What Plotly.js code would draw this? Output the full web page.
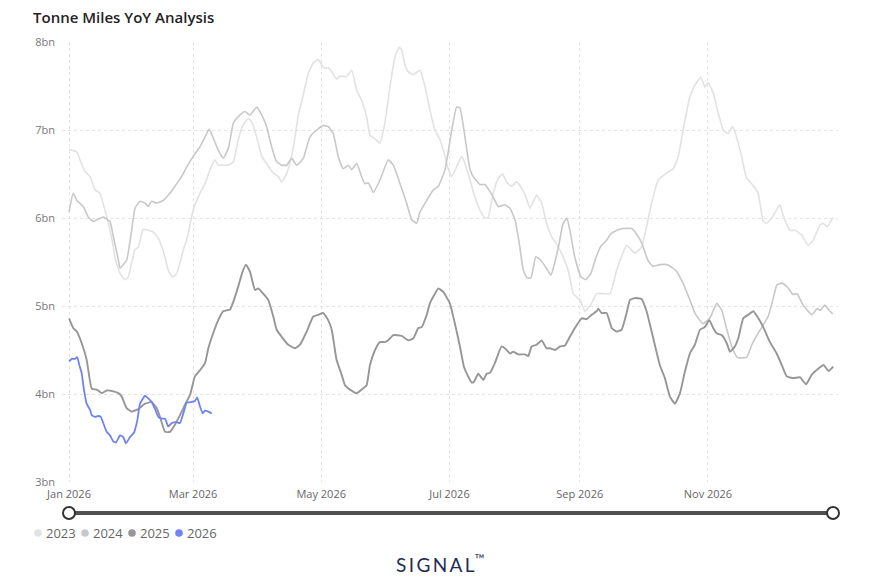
<!DOCTYPE html>
<html>
<head>
<meta charset="utf-8">
<script src="https://cdn.plot.ly/plotly-3.0.1.min.js"></script>
<style>html,body{margin:0;padding:0;background:#fff;}#chart{width:869px;height:577px;}</style>
</head>
<body>
<div id="chart"></div>
<script>
// ---- data (day of year offset from 1 Jan, value in billions of tonne miles) ----
const seriesNames = ['2023', '2024', '2025', '2026'];
const seriesColors = ['#e2e2e2', '#c8c8c8', '#969696', '#6f82f5'];

const days2023 = [
  0,3.7,5.2,7.6,10,12.4,14.7,17.1,19.5,21.1,
  21.9,24.3,26.6,28.2,29.8,31.4,33,35.3,37.7,40.1,
  42.5,44.9,47.2,48,49.6,51.2,52.8,54.4,56,59.1,
  62.3,64.7,67.1,69.4,71,73.4,75.8,78.2,80.5,82.9,
  85.3,86.9,89.3,91.7,94,97.2,99.6,101.2,103.6,105.9,
  107.5,109.1,111.5,113.8,116.2,118.6,120.2,121.8,123.3,125,
  127.3,128.9,132.1,134.5,136.9,139.2,141.6,143.2,145.6,147.9,
  150.3,152.7,155.1,157,158.3,159.8,161.4,163.8,167,169.4,
  171.7,174.1,176.5,178.9,180.4,182,184.4,186.8,188.4,190.8,
  193.1,195.5,197.9,199.5,201.8,204.2,206.3,208.2,210.6,213,
  215.4,217.7,219.3,222.5,224.9,227.2,229.6,232.8,235.1,237.5,
  239.9,243.1,245.5,248.6,251,254.2,257.4,260.5,262.9,265.3,
  269.2,272.4,274.8,277.2,280.3,284.3,287.5,289.9,292.2,295.4,
  297.8,300.6,302.5,304.1,306.5,308.9,311.3,313.6,315.7,317.6,
  320,322.4,324.8,327.9,330.3,331.9,335.1,338.2,339.8,343,
  345.4,348.5,351.7,354.1,357.3,358.8,360.7,363.6];
const vals2023 = [
  6.78,6.75,6.66,6.53,6.47,6.32,6.28,6.09,5.86,5.67,
  5.54,5.37,5.30,5.33,5.49,5.64,5.67,5.87,5.86,5.84,
  5.77,5.62,5.41,5.37,5.33,5.37,5.49,5.64,5.75,6.09,
  6.28,6.39,6.55,6.66,6.60,6.60,6.60,6.64,6.89,7.06,
  7.13,7.09,6.92,6.70,6.62,6.51,6.47,6.41,6.51,6.70,
  6.92,7.17,7.40,7.64,7.76,7.80,7.74,7.70,7.71,7.66,
  7.58,7.61,7.61,7.68,7.45,7.34,7.15,6.94,6.90,6.85,
  7.08,7.49,7.83,7.94,7.91,7.74,7.66,7.63,7.68,7.49,
  7.23,7.00,6.89,6.70,6.56,6.47,6.58,6.70,6.62,6.43,
  6.24,6.09,6.00,6.01,6.28,6.45,6.50,6.41,6.36,6.41,
  6.34,6.22,6.11,6.26,6.17,5.94,5.79,5.67,5.56,5.41,
  5.14,5.07,4.94,5.03,5.14,5.14,5.14,5.40,5.56,5.69,
  5.60,5.67,5.90,6.17,6.43,6.51,6.56,6.70,7.00,7.38,
  7.51,7.60,7.49,7.54,7.42,7.19,7.00,6.96,7.04,6.92,
  6.70,6.45,6.39,6.28,5.96,5.94,6.03,6.15,6.03,5.86,
  5.86,5.81,5.69,5.75,5.92,5.94,5.90,6.01];

const days2024 = [
  0,2,3.7,6.8,9.2,11.6,13.2,16.3,19.5,21.1,
  23.5,24.3,27.4,29.8,31.4,33.8,36.2,37.6,39.3,41.7,
  44.9,48,50.4,53.6,56,59.1,62.3,64.7,66.7,68.6,
  71,73.4,75.8,78.2,80.5,83.7,86.1,89.3,91.7,94,
  96.4,98.8,101.2,103.6,105.9,108.3,111.5,114.6,117.8,121,
  123.3,125.7,128.1,130.5,132.9,134.5,136.9,139.2,140.8,142.4,
  144.8,147.9,151.9,154.3,157.5,160.6,163,165.4,167,170.2,
  173.3,175.7,178.9,182.1,184.4,186,188.4,190.8,192.3,195.5,
  197.9,200.3,201.8,204.2,207.4,209.8,212.2,214.5,216.1,217.9,
  219.8,222.1,224.5,227.4,229.3,231.2,233.1,235,236.9,238.4,
  240.7,243.6,245.9,248.3,250.7,253.1,255.9,257.4,260.7,263.5,
  267.8,270.2,272.6,275.4,277.8,281.1,284.5,287.3,289.2,292.1,
  295.4,297.8,301.6,304.9,308.2,310.6,313,315.4,317.8,320.2,
  322.5,324.9,327.3,330.2,332.6,334.9,336.8,339.2,341.6,344.5,
  346.4,349.3,353.5,355.9,357.3,359.6,362,363.4];
const vals2024 = [
  6.07,6.28,6.20,6.13,6.01,5.96,5.98,6.01,5.96,5.79,
  5.52,5.43,5.52,5.86,6.11,6.19,6.17,6.13,6.19,6.17,
  6.20,6.28,6.36,6.47,6.58,6.70,6.81,6.92,7.01,6.91,
  6.77,6.68,6.79,7.08,7.15,7.21,7.17,7.26,7.17,7.04,
  6.81,6.64,6.60,6.60,6.68,6.60,6.68,6.92,7.00,7.05,
  7.04,6.96,6.70,6.56,6.60,6.55,6.62,6.47,6.39,6.40,
  6.29,6.43,6.66,6.60,6.39,6.17,5.98,5.94,6.07,6.20,
  6.32,6.36,6.55,7.00,7.26,7.25,6.92,6.55,6.47,6.38,
  6.38,6.30,6.24,6.13,6.15,6.11,5.98,5.67,5.41,5.32,
  5.32,5.56,5.52,5.42,5.35,5.50,5.70,5.93,6.00,5.85,
  5.55,5.33,5.30,5.37,5.55,5.68,5.75,5.81,5.86,5.88,
  5.88,5.81,5.71,5.52,5.45,5.47,5.47,5.43,5.39,5.26,
  5.07,4.92,4.80,4.86,5.03,4.95,4.73,4.54,4.42,4.41,
  4.42,4.56,4.67,4.78,4.88,5.07,5.24,5.26,5.22,5.13,
  5.14,5.01,4.90,4.97,4.95,5.01,4.94,4.91];

const days2025 = [
  0,2,3.7,6,8.4,10.8,13.2,15.6,17.9,21.1,
  23.5,25.1,27.4,29.8,33,36.2,39.3,41.7,43.3,45.7,
  48,50.4,52.8,55.2,57.6,59.9,62.3,64.7,66.3,68.6,
  71,73.4,76.6,78.2,80.5,82.6,84.2,86.1,88.5,90,
  92.4,94.8,97.2,98.8,101.2,104.3,107.5,109.9,113.1,116.2,
  118.6,121,123.3,125,127.3,129.7,131.3,133.7,136.9,139.2,
  141.6,143.2,145.6,147.9,150.3,151.9,154.3,158.3,161.4,163.8,
  166.2,167.8,170.2,171.7,174.1,175.7,178.1,181.2,183.6,186,
  187.9,189.9,191.6,192.7,194.7,197.1,198.7,200.3,202.6,205.8,
  207.4,209.8,211.4,213.7,216.9,218.5,220.1,222.5,224.9,227.2,
  228.8,231.2,233.6,235.9,238.3,240.7,243.9,246.3,248.6,251,
  251.8,253.4,255.8,258.2,260.5,262.9,265.3,266.9,269.2,272.4,
  274.8,277.2,281.1,283.5,285.9,288.3,290.7,293,295.4,297.8,
  300.2,302.5,304.6,306.5,308.1,310.5,312.9,314.5,316.8,318.4,
  320.8,323.2,325.6,328,330.3,333.5,336.7,339.1,341.5,344.6,
  347.8,350.7,353.4,356.6,359,361.4,363.6];
const vals2025 = [
  4.86,4.75,4.71,4.58,4.39,4.06,4.05,4.01,4.04,4.03,
  4.01,3.97,3.84,3.80,3.83,3.89,3.91,3.84,3.74,3.57,
  3.57,3.65,3.76,3.88,3.99,4.20,4.27,4.35,4.52,4.69,
  4.84,4.94,4.96,5.05,5.22,5.39,5.47,5.39,5.18,5.20,
  5.14,5.07,4.88,4.73,4.65,4.56,4.52,4.56,4.71,4.88,
  4.90,4.92,4.84,4.73,4.39,4.22,4.10,4.05,4.01,4.05,
  4.10,4.33,4.50,4.59,4.59,4.61,4.67,4.66,4.61,4.63,
  4.75,4.76,4.90,5.03,5.14,5.20,5.16,5.03,4.80,4.54,
  4.31,4.20,4.13,4.14,4.23,4.16,4.23,4.24,4.35,4.54,
  4.52,4.46,4.48,4.45,4.45,4.43,4.54,4.56,4.61,4.52,
  4.52,4.50,4.54,4.55,4.65,4.75,4.86,4.85,4.90,4.94,
  4.97,4.92,4.92,4.75,4.71,4.73,4.92,5.07,5.09,5.08,
  4.94,4.71,4.33,4.18,3.97,3.89,4.01,4.25,4.46,4.56,
  4.73,4.76,4.84,4.75,4.69,4.67,4.58,4.48,4.54,4.63,
  4.86,4.90,4.94,4.86,4.76,4.59,4.46,4.33,4.20,4.18,
  4.19,4.11,4.22,4.29,4.33,4.26,4.31];

const days2026 = [
  0,1.3,2.9,3.9,4.9,6,7.1,8.4,10,10.8,
  12.4,13.9,15.1,16.3,17.9,19.5,21.1,22.4,24.3,25.8,
  27.1,29,30.9,32.5,33.8,36.2,37.7,39.3,40.9,42.5,
  44.1,45.7,47.2,48.9,51.2,52.8,54.4,56,58.4,59.9,
  61,62.3,63.6,64.7,66.3,67.9];
const vals2026 = [
  4.37,4.40,4.40,4.42,4.33,4.24,4.05,3.89,3.82,3.76,
  3.74,3.75,3.74,3.67,3.57,3.53,3.46,3.45,3.53,3.51,
  3.44,3.51,3.56,3.70,3.89,3.98,3.95,3.91,3.83,3.74,
  3.72,3.72,3.63,3.67,3.68,3.67,3.78,3.90,3.91,3.92,
  3.96,3.86,3.78,3.81,3.80,3.78];

const xTickVals = ['2026-01-01', '2026-03-01', '2026-05-01', '2026-07-01', '2026-09-01', '2026-11-01'];
const xTickText = ['Jan 2026', 'Mar 2026', 'May 2026', 'Jul 2026', 'Sep 2026', 'Nov 2026'];
const yTickVals = [3, 4, 5, 6, 7, 8];
const yTickText = ['3bn', '4bn', '5bn', '6bn', '7bn', '8bn'];

// ---- build ----
const base = Date.UTC(2026, 0, 1);
function toDate(d) {
  return new Date(base + d * 864e5).toISOString().slice(0, 16).replace('T', ' ');
}
const allDays = [days2023, days2024, days2025, days2026];
const allVals = [vals2023, vals2024, vals2025, vals2026];
const widths = [1.6, 1.6, 1.9, 1.8];

const traces = seriesNames.map((name, i) => ({
  type: 'scatter',
  mode: 'lines',
  name: name,
  x: allDays[i].map(toDate),
  y: allVals[i],
  line: { color: seriesColors[i], width: widths[i], shape: 'spline', smoothing: 0.4 },
  showlegend: false,
  hoverinfo: 'x+y+name'
}));

// legend (Power BI style, compact dots)
const legendDotX = [38, 85, 132, 179];
const pxX = px => (px - 62) / 776;
const pxY = py => (482 - py) / 440;
const shapes = [];
const annotations = [];
seriesNames.forEach((name, i) => {
  shapes.push({
    type: 'circle', xref: 'paper', yref: 'paper', xsizemode: 'pixel', ysizemode: 'pixel',
    xanchor: pxX(legendDotX[i]), yanchor: pxY(533),
    x0: -3.8, x1: 3.8, y0: -3.8, y1: 3.8,
    fillcolor: seriesColors[i], line: { width: 0 }
  });
  annotations.push({
    xref: 'paper', yref: 'paper', x: pxX(legendDotX[i] + 6), y: pxY(533),
    xanchor: 'left', yanchor: 'middle', showarrow: false,
    text: name, font: { family: 'Open Sans, sans-serif', size: 13, color: '#666666' }
  });
});

// range slider look-alike
shapes.push({
  type: 'line', xref: 'paper', yref: 'paper',
  x0: pxX(69), x1: pxX(833), y0: pxY(513), y1: pxY(513),
  line: { color: '#505050', width: 4 }
});
[69, 833].forEach(px => {
  shapes.push({
    type: 'circle', xref: 'paper', yref: 'paper', xsizemode: 'pixel', ysizemode: 'pixel',
    xanchor: pxX(px), yanchor: pxY(513), x0: -6, x1: 6, y0: -6, y1: 6,
    fillcolor: '#ffffff', line: { color: '#333333', width: 2 }
  });
});

// brand mark
annotations.push({
  xref: 'paper', yref: 'paper', x: pxX(440), y: pxY(563), xanchor: 'center', yanchor: 'middle',
  showarrow: false,
  text: 'S\u2009I\u2009G\u2009N\u2009A\u2009L<sup>\u2122</sup>',
  font: { family: 'Lato, sans-serif', size: 19, color: '#1f2d55' }
});

const layout = {
  width: 869, height: 577,
  margin: { l: 62, r: 31, t: 42, b: 95 },
  paper_bgcolor: '#ffffff', plot_bgcolor: '#ffffff',
  title: {
    text: 'Tonne Miles YoY Analysis',
    x: 33 / 869, xref: 'container', xanchor: 'left',
    y: 1 - 18 / 577, yref: 'container', yanchor: 'middle',
    font: { family: 'Open Sans, sans-serif', size: 15, weight: 600, color: '#252423' }
  },
  showlegend: false,
  xaxis: {
    type: 'date',
    range: ['2025-12-28 16:00', '2027-01-01 21:00'],
    tickvals: xTickVals, ticktext: xTickText,
    showgrid: true, gridcolor: '#e4e4e4', griddash: 'dot', gridwidth: 1,
    zeroline: false, showline: false, ticks: '',
    ticklabelstandoff: 4,
    tickfont: { family: 'Open Sans, sans-serif', size: 11, color: '#666666' },
    fixedrange: true
  },
  yaxis: {
    range: [3, 8],
    tickvals: yTickVals, ticktext: yTickText,
    showgrid: true, gridcolor: '#e4e4e4', griddash: 'dot', gridwidth: 1,
    zeroline: false, showline: false, ticks: '',
    ticklabelstandoff: 6,
    tickfont: { family: 'Open Sans, sans-serif', size: 11, color: '#777777' },
    fixedrange: true
  },
  shapes: shapes,
  annotations: annotations
};

Plotly.newPlot('chart', traces, layout, { displayModeBar: false, staticPlot: false });
</script>
</body>
</html>
